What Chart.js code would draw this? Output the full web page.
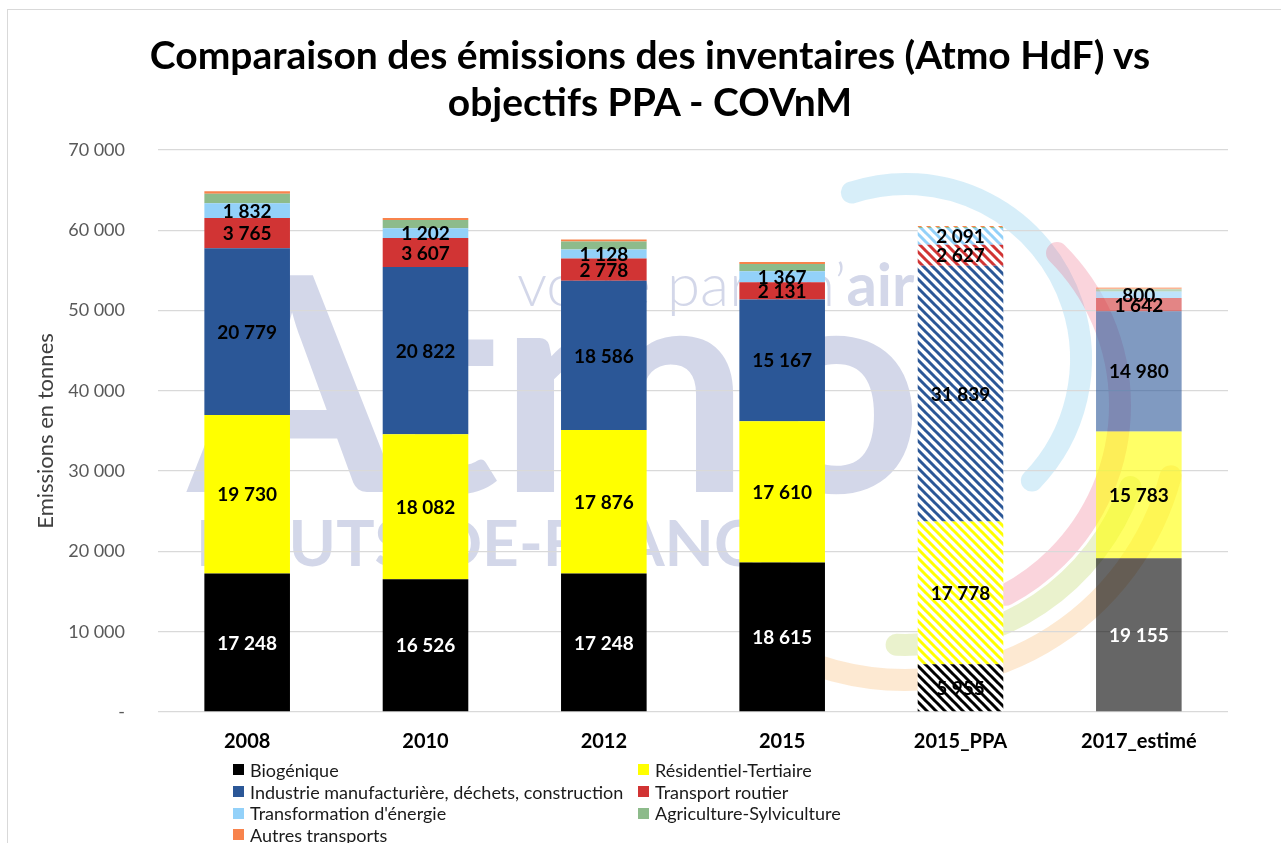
<!DOCTYPE html>
<html lang="fr">
<head>
<meta charset="utf-8">
<title>Comparaison des émissions des inventaires (Atmo HdF) vs objectifs PPA - COVnM</title>
<script src="https://cdn.jsdelivr.net/npm/chart.js@4.4.1/dist/chart.umd.min.js"></script>
<style>
  html, body { margin: 0; padding: 0; background: #fff; }
  #wrap { position: relative; width: 1281px; height: 843px; overflow: hidden; font-family: Lato, 'Open Sans', sans-serif; }
  #frame { position: absolute; left: 7px; top: 9px; right: -4px; bottom: -4px; border: 1px solid #d9d9d9; }
  #title { position: absolute; left: 0; top: 31px; width: 1300px; text-align: center; font-weight: bold; font-size: 39px; line-height: 47px; color: #000; }
  #chart { position: absolute; left: 0; top: 0; }
  #legend { position: absolute; left: 233px; top: 759px; display: grid; grid-template-columns: 405px auto; font-size: 18px; color: #1a1a1a; }
  .item { display: flex; align-items: center; height: 21.7px; white-space: nowrap; }
  .sw { width: 11px; height: 11px; margin-right: 6px; flex: none; }
</style>
</head>
<body>
<div id="wrap">
  <div id="frame"></div>
  <canvas id="chart" width="1281" height="782"></canvas>
  <div id="title">Comparaison des émissions des inventaires (Atmo HdF) vs<br>objectifs PPA - COVnM</div>
  <div id="legend"></div>
</div>
<script>
/* ── Data ─────────────────────────────────────────────────── */
const categories = ['2008', '2010', '2012', '2015', '2015_PPA', '2017_estimé'];

const biogenique       = [17248, 16526, 17248, 18615,  5955, 19155];
const residentiel      = [19730, 18082, 17876, 17610, 17778, 15783];
const industrie        = [20779, 20822, 18586, 15167, 31839, 14980];
const transportRoutier = [ 3765,  3607,  2778,  2131,  2627,  1642];
const transformation   = [ 1832,  1202,  1128,  1367,  2091,   800];
const agriculture      = [ 1200,  1050,  1000,   900,   120,   300];
const autresTransports = [  300,   250,   250,   250,   120,   200];

const seriesNames = [
  'Biogénique',
  'Résidentiel-Tertiaire',
  'Industrie manufacturière, déchets, construction',
  'Transport routier',
  "Transformation d'énergie",
  'Agriculture-Sylviculture',
  'Autres transports'
];
const seriesValues = [biogenique, residentiel, industrie, transportRoutier, transformation, agriculture, autresTransports];
const seriesColors = ['#000000', '#ffff00', '#2b5797', '#d13434', '#93d1f9', '#8dbb8b', '#f8834c'];
const labelled     = [true, true, true, true, true, false, false];

/* ── Helpers ──────────────────────────────────────────────── */
const canvas = document.getElementById('chart');
const ctx = canvas.getContext('2d');

function fmt(v) {
  return v === 0 ? '-' : Math.round(v).toString().replace(/\B(?=(\d{3})+(?!\d))/g, ' ');
}

function fade(hex, a) {
  const n = parseInt(hex.slice(1), 16);
  return `rgba(${n >> 16},${(n >> 8) & 255},${n & 255},${a})`;
}

function hatch(color) {
  const s = 9;
  const c = document.createElement('canvas');
  c.width = s; c.height = s;
  const g = c.getContext('2d');
  g.fillStyle = '#fff';
  g.fillRect(0, 0, s, s);
  g.strokeStyle = color;
  g.lineWidth = 3;
  g.beginPath();
  for (let k = -1; k <= 1; k++) { g.moveTo(k * s - 1, -1); g.lineTo(k * s + s + 1, s + 1); }
  g.stroke();
  return ctx.createPattern(c, 'repeat');
}

function barColor(color, cat) {
  if (cat.endsWith('_PPA')) return hatch(color);
  if (cat.includes('estimé')) return fade(color, 0.6);
  return color;
}

/* ── Plugins ──────────────────────────────────────────────── */
const watermark = {
  id: 'watermark',
  beforeDraw(chart) {
    const c = chart.ctx;
    c.save();
    c.fillStyle = 'rgba(45,65,150,0.21)';
    c.font = 'bold 300px Lato';
    c.fillText('Atmo', 188, 492);
    c.font = '300 60px Lato';
    c.fillText('votre parten\u2019', 517, 306);
    const w = c.measureText('votre parten\u2019').width;
    c.font = 'bold 60px Lato';
    c.fillText('air', 517 + w, 306);
    c.font = 'bold 64px Lato';
    c.fillText('HAUTS-DE-FRANCE', 196, 566);

    c.lineCap = 'round';
    c.lineWidth = 22;
    const arcs = [
      { x: 906, y: 359, r: 175, a0: -108, a1: 44,  col: 'rgba(110,195,235,0.28)' },
      { x: 905, y: 405, r: 215, a0: -45,  a1: 62,  col: 'rgba(235,90,120,0.26)' },
      { x: 905, y: 405, r: 240, a0: 20,   a1: 92,  col: 'rgba(175,205,60,0.26)' },
      { x: 905, y: 405, r: 275, a0: 15,   a1: 112, col: 'rgba(245,160,60,0.23)' }
    ];
    arcs.forEach(a => {
      c.strokeStyle = a.col;
      c.beginPath();
      c.arc(a.x, a.y, a.r, a.a0 * Math.PI / 180, a.a1 * Math.PI / 180);
      c.stroke();
    });
    c.restore();
  }
};

const segmentLabels = {
  id: 'segmentLabels',
  afterDatasetsDraw(chart) {
    const c = chart.ctx;
    c.save();
    c.font = 'bold 19px Lato';
    c.textAlign = 'center';
    c.textBaseline = 'middle';
    chart.data.datasets.forEach((ds, i) => {
      if (!labelled[i]) return;
      chart.getDatasetMeta(i).data.forEach((bar, j) => {
        const p = bar.getCenterPoint();
        c.fillStyle = (i === 0 && !categories[j].endsWith('_PPA')) ? '#fff' : '#000';
        c.fillText(fmt(ds.data[j]), p.x, p.y + 1);
      });
    });
    c.restore();
  }
};

/* ── Chart ────────────────────────────────────────────────── */
const chart = new Chart(ctx, {
  type: 'bar',
  data: {
    labels: categories,
    datasets: seriesNames.map((name, i) => ({
      label: name,
      data: seriesValues[i],
      backgroundColor: categories.map(cat => barColor(seriesColors[i], cat)),
      borderWidth: 0,
      categoryPercentage: 0.8,
      barPercentage: 0.6
    }))
  },
  options: {
    responsive: false,
    animation: false,
    layout: { padding: { top: 150, left: 31, right: 53, bottom: 10 } },
    plugins: {
      legend: { display: false },
      title: { display: false },
      tooltip: { enabled: false }
    },
    scales: {
      x: {
        stacked: true,
        grid: { display: false, drawTicks: false },
        border: { display: false },
        ticks: { color: '#000', font: { family: 'Lato', size: 20, weight: 'bold' }, padding: 18 }
      },
      y: {
        stacked: true,
        min: 0,
        max: 70000,
        afterFit: s => { s.width = 127; },
        grid: { color: '#d9d9d9', lineWidth: 1.3, drawTicks: false },
        border: { display: false },
        ticks: {
          stepSize: 10000,
          padding: 33,
          color: '#595959',
          font: { family: 'Lato', size: 18 },
          callback: v => fmt(v)
        },
        title: {
          display: true,
          text: 'Emissions en tonnes',
          color: '#404040',
          font: { family: 'Lato', size: 22 },
          padding: { top: 2, bottom: 0 }
        }
      }
    }
  },
  plugins: [watermark, segmentLabels]
});

/* ── Legend (two columns) ─────────────────────────────────── */
const legendEl = document.getElementById('legend');
chart.data.datasets.forEach((ds, i) => {
  const item = document.createElement('div');
  item.className = 'item';
  item.innerHTML = `<span class="sw" style="background:${seriesColors[i]}"></span>${ds.label}`;
  legendEl.appendChild(item);
});
</script>
</body>
</html>
